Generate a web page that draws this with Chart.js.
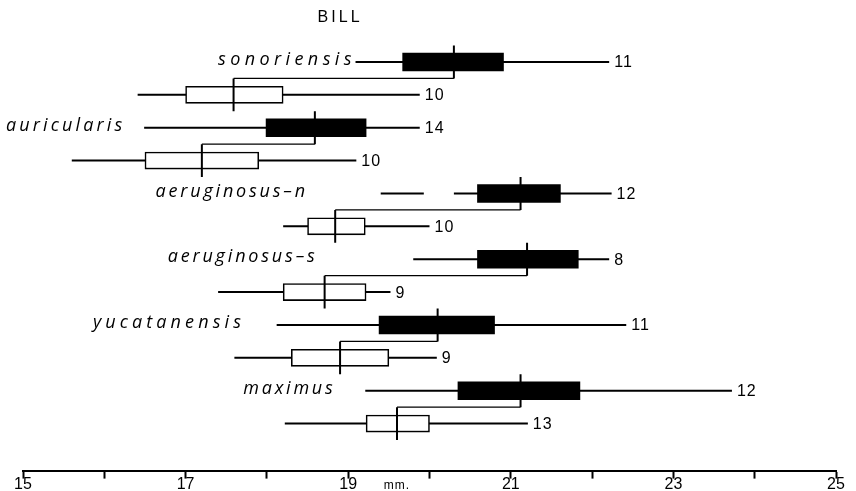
<!DOCTYPE html>
<html>
<head>
<meta charset="utf-8">
<script src="https://cdn.jsdelivr.net/npm/chart.js@4.4.1/dist/chart.umd.min.js"></script>
<style>
  html, body { margin: 0; padding: 0; background: #fff; }
  #wrap { width: 856px; height: 491px; position: relative; }
</style>
</head>
<body>
<div id="wrap"><canvas id="billChart"></canvas></div>
<script>
// taxa, top to bottom; each one has a male row and then a female row
const taxa = ["sonoriensis", "auricularis", "aeruginosus\u2013n", "aeruginosus\u2013s", "yucatanensis", "maximus"];

// males (solid boxes), bill in mm
const maleMin   = [19.09, 16.49, 19.40, 19.80, 18.12, 19.21];
const maleBoxLo = [19.67, 17.99, 20.59, 20.59, 19.38, 20.35];
const maleMean  = [20.30, 18.59, 21.12, 21.20, 20.10, 21.12];
const maleBoxHi = [20.91, 19.22, 21.61, 21.83, 20.80, 21.85];
const maleMax   = [22.21, 19.88, 22.24, 22.21, 22.42, 23.72];
const maleN     = [11, 14, 12, 8, 11, 12];

// females (open boxes)
const femMin   = [16.41, 15.60, 18.20, 17.40, 17.60, 18.22];
const femBoxLo = [17.00, 16.50, 18.50, 18.20, 18.30, 19.22];
const femMean  = [17.59, 17.20, 18.84, 18.71, 18.90, 19.60];
const femBoxHi = [18.20, 17.90, 19.21, 19.22, 19.50, 20.00];
const femMax   = [19.88, 19.10, 20.00, 19.52, 20.09, 21.21];
const femN     = [10, 10, 10, 9, 9, 13];

// break in the male range line of aeruginosus-n
const maleGap = [null, null, [19.93, 20.30], null, null, null];

// axis
const xMin = 15, xMax = 25;
const xLabelled = [15, 17, 19, 21, 23, 25];

// where the hand-lettered names sit (left and right end, mm) - layout only
const nameLeft  = [17.40, 14.79, 16.63, 16.78, 15.86, 17.71];
const nameRight = [19.04, 16.22, 18.47, 18.59, 17.68, 18.81];

const GAP = { x: null, y: null };

function seg(list, x0, x1, y0, y1) {
  list.push({ x: x0, y: y0 }, { x: x1, y: y1 }, GAP);
}

const rangePts = [], meanPts = [], linkPts = [];
taxa.forEach((t, k) => {
  const rm = 2 * k, rf = 2 * k + 1;
  if (maleGap[k]) {
    seg(rangePts, maleMin[k], maleGap[k][0], rm, rm);
    seg(rangePts, maleGap[k][1], maleMax[k], rm, rm);
  } else {
    seg(rangePts, maleMin[k], maleMax[k], rm, rm);
  }
  seg(rangePts, femMin[k], femMax[k], rf, rf);
  seg(meanPts, maleMean[k], maleMean[k], rm - 0.5, rm + 0.5);
  seg(meanPts, femMean[k], femMean[k], rf - 0.5, rf + 0.5);
  seg(linkPts, femMean[k], maleMean[k], rm + 0.5, rm + 0.5);
});

const maleBoxes = taxa.map((t, k) => ({ y: 2 * k, x: [maleBoxLo[k], maleBoxHi[k]] }));
const femBoxes = taxa.map((t, k) => ({ y: 2 * k + 1, x: [femBoxLo[k], femBoxHi[k]] }));

const lineStyle = {
  type: "line",
  borderColor: "#000",
  pointRadius: 0,
  fill: false,
  spanGaps: false,
  tension: 0,
};

const textPlugin = {
  id: "texts",
  afterDatasetsDraw(chart) {
    const ctx = chart.ctx;
    const xs = chart.scales.x, ys = chart.scales.y;
    ctx.save();
    ctx.fillStyle = "#000";
    ctx.textBaseline = "middle";

    // taxon names, spread out to the width of the lettering
    ctx.font = "italic 18px 'Open Sans'";
    ctx.textAlign = "left";
    taxa.forEach((t, k) => {
      const x0 = xs.getPixelForValue(nameLeft[k]);
      const x1 = xs.getPixelForValue(nameRight[k]);
      ctx.letterSpacing = "0px";
      const w = ctx.measureText(t).width;
      const sp = Math.max(0, (x1 - x0 - w) / (t.length - 1));
      ctx.letterSpacing = sp.toFixed(2) + "px";
      ctx.fillText(t, x0, ys.getPixelForValue(2 * k) - 2);
    });

    // sample sizes
    ctx.font = "16px 'Liberation Sans'";
    ctx.letterSpacing = "1px";
    taxa.forEach((t, k) => {
      ctx.fillText(String(maleN[k]), xs.getPixelForValue(maleMax[k]) + 5, ys.getPixelForValue(2 * k) + 1);
      ctx.fillText(String(femN[k]), xs.getPixelForValue(femMax[k]) + 5, ys.getPixelForValue(2 * k + 1) + 1);
    });

    // heading and unit
    ctx.font = "16px 'Liberation Sans'";
    ctx.letterSpacing = "3px";
    ctx.textAlign = "center";
    ctx.fillText("BILL", xs.getPixelForValue(18.9), 18);
    ctx.font = "12px 'Liberation Sans'";
    ctx.letterSpacing = "1px";
    ctx.fillText("mm.", xs.getPixelForValue(19.6), 486);
    ctx.restore();
  },
};

new Chart(document.getElementById("billChart"), {
  type: "bar",
  data: {
    datasets: [
      { ...lineStyle, label: "range", data: rangePts, borderWidth: 2, order: 5 },
      {
        label: "males",
        data: maleBoxes,
        backgroundColor: "#000",
        borderColor: "#000",
        borderWidth: 0,
        barThickness: 18,
        grouped: false,
        borderSkipped: false,
        order: 4,
      },
      {
        label: "females",
        data: femBoxes,
        backgroundColor: "#fff",
        borderColor: "#000",
        borderWidth: 1.6,
        barThickness: 17,
        grouped: false,
        borderSkipped: false,
        order: 3,
      },
      { ...lineStyle, label: "links", data: linkPts, borderWidth: 1.4, order: 2 },
      { ...lineStyle, label: "means", data: meanPts, borderWidth: 2, order: 1 },
    ],
  },
  options: {
    indexAxis: "y",
    responsive: true,
    maintainAspectRatio: false,
    animation: false,
    events: [],
    layout: { padding: { left: 23, right: 20, top: 20, bottom: 0 } },
    plugins: {
      legend: { display: false },
      tooltip: { enabled: false },
      title: { display: false },
    },
    scales: {
      x: {
        type: "linear",
        min: xMin,
        max: xMax,
        border: { display: true, color: "#000", width: 2 },
        grid: {
          display: true,
          drawOnChartArea: false,
          drawTicks: true,
          tickLength: 8,
          tickWidth: 2,
          tickColor: "#000",
          color: "#000",
        },
        ticks: {
          stepSize: 1,
          autoSkip: false,
          maxRotation: 0,
          padding: 1,
          color: "#000",
          font: { family: "'Liberation Sans'", size: 16, lineHeight: 0.65 },
          callback: (v) => (xLabelled.includes(v) ? String(v) : ""),
        },
      },
      y: {
        type: "linear",
        reverse: true,
        offset: false,
        min: -1.277,
        max: 12.43,
        display: false,
      },
    },
  },
  plugins: [textPlugin],
});
</script>
</body>
</html>
